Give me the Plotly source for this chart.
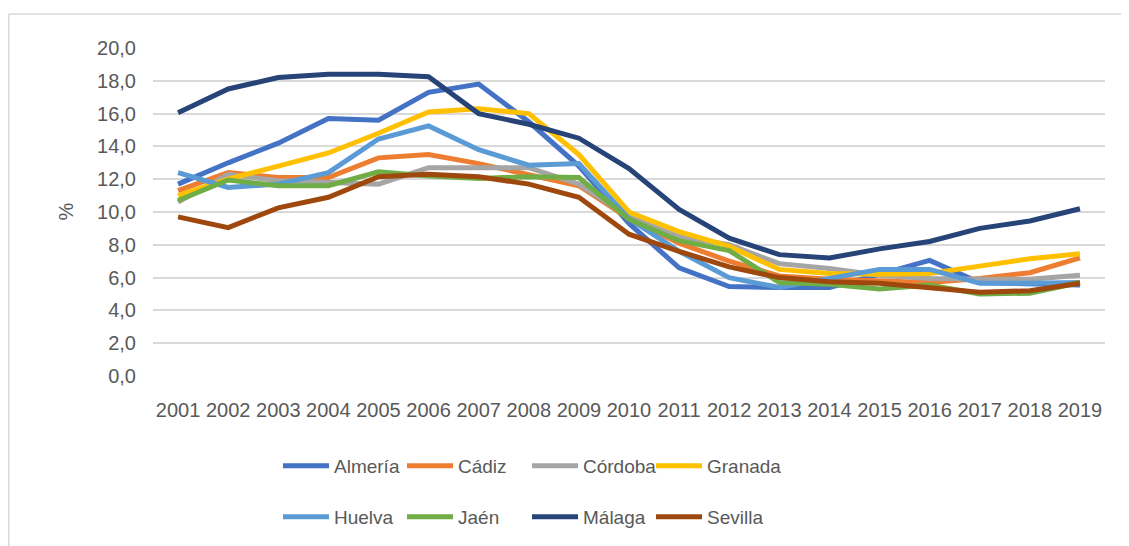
import plotly.graph_objects as go

years = [str(y) for y in range(2001, 2020)]

almeria = [11.7, 13.0, 14.2, 15.7, 15.6, 17.3, 17.8, 15.5, 12.8, 9.3, 6.6, 5.45, 5.4, 5.4, 6.2, 7.05, 5.7, 5.65, 5.55]
cadiz = [11.3, 12.4, 12.1, 12.1, 13.3, 13.5, 12.95, 12.3, 11.6, 9.6, 8.1, 7.0, 6.1, 5.9, 5.8, 5.7, 5.95, 6.3, 7.2]
cordoba = [10.6, 12.3, 11.9, 11.8, 11.7, 12.7, 12.7, 12.7, 11.7, 9.7, 8.5, 8.0, 6.85, 6.55, 6.15, 5.95, 5.9, 5.9, 6.15]
granada = [11.0, 12.0, 12.8, 13.6, 14.8, 16.1, 16.3, 16.0, 13.5, 10.0, 8.8, 7.9, 6.5, 6.25, 6.2, 6.25, 6.7, 7.15, 7.45]
huelva = [12.4, 11.5, 11.7, 12.4, 14.45, 15.25, 13.8, 12.85, 12.95, 9.6, 7.6, 6.0, 5.4, 5.95, 6.5, 6.5, 5.65, 5.65, 5.7]
jaen = [10.7, 11.95, 11.6, 11.6, 12.45, 12.2, 12.05, 12.15, 12.1, 9.55, 8.25, 7.65, 5.7, 5.6, 5.3, 5.55, 5.0, 5.05, 5.7]
malaga = [16.05, 17.5, 18.2, 18.4, 18.4, 18.25, 16.0, 15.35, 14.5, 12.65, 10.15, 8.4, 7.4, 7.2, 7.75, 8.2, 9.0, 9.45, 10.2]
sevilla = [9.7, 9.05, 10.25, 10.9, 12.15, 12.3, 12.15, 11.7, 10.9, 8.65, 7.6, 6.65, 6.0, 5.75, 5.65, 5.4, 5.1, 5.2, 5.65]

names = ["Almería", "Cádiz", "Córdoba", "Granada", "Huelva", "Jaén", "Málaga", "Sevilla"]
series = [almeria, cadiz, cordoba, granada, huelva, jaen, malaga, sevilla]
colors = ["#4472C4", "#ED7D31", "#A5A5A5", "#FFC000", "#5B9BD5", "#70AD47", "#264478", "#9E480E"]

OFF = 8  # page body margin
W, H = 1129 - OFF, 546 - OFF
L, R, T, B = 153 - OFF, 24, 48 - OFF, 169
pw, ph = W - L - R, H - T - B

def px(x):
    return (x - OFF - L) / pw

def py(y):
    return (H - B - (y - OFF)) / ph

FONT = "Liberation Sans"
TXT = "#595959"

# legend item positions (page px): symbol start x, row center y
leg_x = [284, 408, 533, 657]
leg_y = [466, 517]

fig = go.Figure()
legends = {}
for i, (n, s, c) in enumerate(zip(names, series, colors)):
    key = "legend" if i == 0 else f"legend{i + 1}"
    fig.add_trace(go.Scatter(
        x=years, y=s, name=n, mode="lines",
        line=dict(color=c, width=5),
        legend=key,
    ))
    legends[key] = dict(
        orientation="h", xanchor="left", yanchor="middle",
        x=px(leg_x[i % 4] - 6), y=py(leg_y[i // 4]),
        font=dict(family=FONT, size=19, color=TXT),
        itemwidth=46,
        bgcolor="rgba(0,0,0,0)", itemclick=False,
    )

fig.update_layout(
    width=W, height=H,
    margin=dict(l=L, r=R, t=T, b=B, pad=0),
    paper_bgcolor="white", plot_bgcolor="white",
    separators=", ",
    font=dict(family=FONT, color=TXT),
    xaxis=dict(
        type="category", range=[-0.5, 18.5],
        showgrid=False, showline=False, zeroline=False,
        ticks="", tickfont=dict(family=FONT, size=20, color=TXT),
        ticklabelstandoff=20,
    ),
    yaxis=dict(
        range=[0, 20], dtick=2, tickformat=".1f",
        showgrid=True, gridcolor="#D9D9D9", gridwidth=1.5,
        zeroline=False, showline=False,
        ticks="", tickfont=dict(family=FONT, size=20, color=TXT),
        ticklabelstandoff=16,
    ),
    annotations=[dict(
        text="%", xref="paper", yref="paper", x=px(66), y=py(212),
        xanchor="center", yanchor="middle",
        showarrow=False, textangle=-90,
        font=dict(family=FONT, size=20, color=TXT),
    )],
    shapes=[
        dict(type="line", xref="paper", yref="paper", x0=px(8.75), x1=px(1140), y0=py(14), y1=py(14),
             line=dict(color="#D9D9D9", width=1.5)),
        dict(type="line", xref="paper", yref="paper", x0=px(8.75), x1=px(8.75), y0=py(14), y1=py(560),
             line=dict(color="#D9D9D9", width=1.5)),
    ],
    showlegend=True,
    **legends,
)

fig.write_html("out.html")
